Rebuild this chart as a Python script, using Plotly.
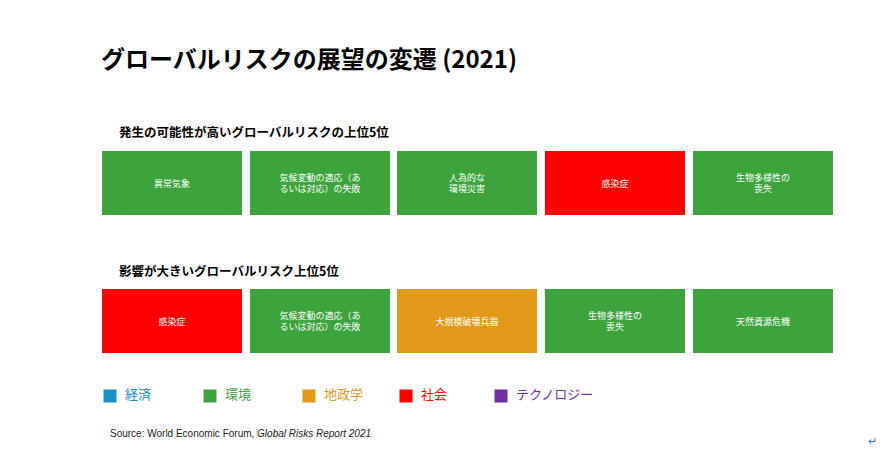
import plotly.graph_objects as go

likelihood = ["異常気象", "気候変動の適応（あ<br>るいは対応）の失敗", "人為的な<br>環境災害", "感染症", "生物多様性の<br>喪失"]
likelihood_cat = ["環境", "環境", "環境", "社会", "環境"]
impact = ["感染症", "気候変動の適応（あ<br>るいは対応）の失敗", "大規模破壊兵器", "生物多様性の<br>喪失", "天然資源危機"]
impact_cat = ["社会", "環境", "地政学", "環境", "環境"]
legend_cats = ["経済", "環境", "地政学", "社会", "テクノロジー"]
colors = {"経済": "#1A8FC3", "環境": "#3DA33D", "地政学": "#E39A1A", "社会": "#FF0000", "テクノロジー": "#7030A0"}

FONT = "Noto Sans CJK JP"
x0, step, w = 172, 147.7, 140
fig = go.Figure()
for labels, cats, top in [(likelihood, likelihood_cat, 151), (impact, impact_cat, 289)]:
    xs = [x0 + i * step for i in range(len(labels))]
    fig.add_trace(go.Bar(x=xs, y=[64] * len(labels), base=[top] * len(labels), width=w,
                         marker=dict(color=[colors[c] for c in cats], line_width=0),
                         text=labels, textposition="inside", insidetextanchor="middle",
                         textangle=0, textfont=dict(color="white", size=9, family=FONT),
                         hoverinfo="skip", showlegend=False))

lx = [110, 210, 309, 406, 501]
fig.add_trace(go.Scatter(x=lx, y=[396] * 5, mode="markers+text",
                         marker=dict(symbol="square", size=13, color=[colors[c] for c in legend_cats]),
                         text=["  " + c for c in legend_cats], textposition="middle right",
                         textfont=dict(color=[colors[c] for c in legend_cats], size=13, family=FONT),
                         hoverinfo="skip", showlegend=False))

def ann(x, y, t, size, bold=False, color="black", family=FONT):
    fig.add_annotation(x=x, y=y, text=f"<b>{t}</b>" if bold else t, showarrow=False,
                       xanchor="left", yanchor="middle", font=dict(size=size, color=color, family=family))

ann(99, 57, "グローバルリスクの展望の変遷 (2021)", 24, True)
ann(117, 131, "発生の可能性が高いグローバルリスクの上位5位", 12.5, True)
ann(117, 270, "影響が大きいグローバルリスク上位5位", 12.5, True)
ann(108, 433, "Source: World Economic Forum, <i>Global Risks Report 2021</i>", 10, color="#222", family="Liberation Sans")
ann(866, 440, "↵", 11, color="#4472C4")

fig.update_layout(width=876, height=446, margin=dict(l=0, r=0, t=0, b=0),
                  plot_bgcolor="white", paper_bgcolor="white", bargap=0, barmode="overlay",
                  xaxis=dict(range=[8, 884], visible=False, fixedrange=True),
                  yaxis=dict(range=[454, 8], visible=False, fixedrange=True),
                  uniformtext=dict(minsize=9, mode="show"))
fig.write_html("out.html")
